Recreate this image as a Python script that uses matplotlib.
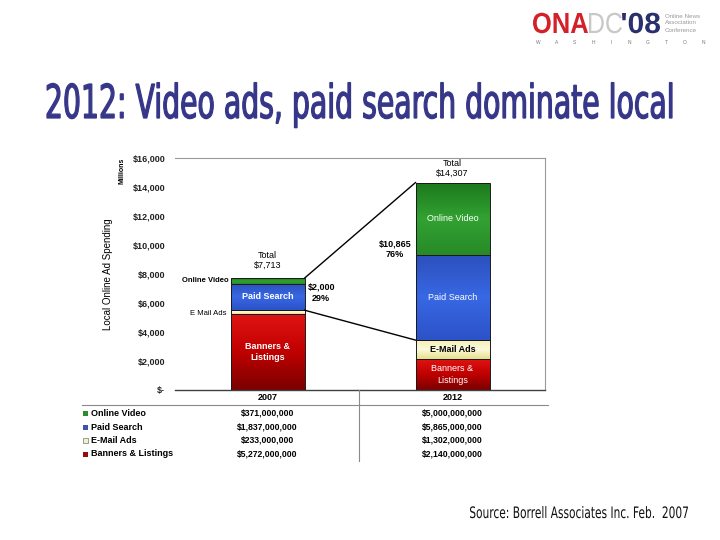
import numpy as np
import matplotlib
matplotlib.use('Agg')
import matplotlib.pyplot as plt
from matplotlib.colors import LinearSegmentedColormap
from matplotlib.textpath import TextPath
from matplotlib.font_manager import FontProperties
from matplotlib.patches import PathPatch, Rectangle
from matplotlib.transforms import Affine2D

plt.rcParams['font.family'] = ['Liberation Sans', 'DejaVu Sans']

# Dados (milhões de dólares)
anos = ['2007', '2012']
series = ['Online Video', 'Paid Search', 'E-Mail Ads', 'Banners & Listings']
banners = [5272, 2140]
email = [233, 1302]
search = [1837, 5865]
video = [371, 5000]
crescimento = ['$2,000\n29%', '$10,865\n76%']
yticks = [0, 2000, 4000, 6000, 8000, 10000, 12000, 14000, 16000]

# Cores (base -> topo) de cada segmento com gradiente vertical
cores = {
    'Banners & Listings': ['#7a0000', '#c00000', '#e21414'],
    'E-Mail Ads': ['#e6df88', '#fcf9dc', '#f4efb8'],
    'Paid Search': ['#2c52c8', '#3868e4', '#2c4fbc'],
    'Online Video': ['#278a27', '#32a232', '#1c781c'],
}
cor_legenda = {'Online Video': '#2e8b2e', 'Paid Search': '#4052b0',
               'E-Mail Ads': '#f2f0c8', 'Banners & Listings': '#9a0a0a'}

W, H = 720, 540
fig = plt.figure(figsize=(7.2, 5.4), dpi=100)

# eixo principal (em pixels: x 175-545, y 158-390)
ax_l, ax_r, ax_t, ax_b = 175, 545, 158, 390
ax = fig.add_axes([ax_l / W, 1 - ax_b / H, (ax_r - ax_l) / W, (ax_b - ax_t) / H])
ax.set_xlim(-0.5, 1.5)
ax.set_ylim(0, 16000)


def barra_gradiente(ax, x, base, altura, largura, stops):
    bar = ax.bar(x, altura, largura, bottom=base, color='none',
                 edgecolor='#1a1a1a', linewidth=0.7, zorder=3)[0]
    cmap = LinearSegmentedColormap.from_list('g', stops)
    grad = np.linspace(0, 1, 128).reshape(-1, 1)
    im = ax.imshow(grad, cmap=cmap, origin='lower', aspect='auto', zorder=2,
                   extent=(x - largura / 2, x + largura / 2, base, base + altura))
    im.set_clip_path(bar)


largura = 0.4
x = np.arange(len(anos))
for i in range(len(anos)):
    base = 0
    for nome, vals in [('Banners & Listings', banners), ('E-Mail Ads', email),
                       ('Paid Search', search), ('Online Video', video)]:
        barra_gradiente(ax, x[i], base, vals[i], largura, cores[nome])
        base += vals[i]

ax.set_xlim(-0.5, 1.5)
ax.set_ylim(0, 16000)

# linhas de ligação entre as barras
topo = [banners[i] + email[i] + search[i] + video[i] for i in range(2)]
meio = [banners[i] + email[i] for i in range(2)]
ax.plot([x[0] + largura / 2, x[1] - largura / 2], topo, color='black', lw=1, zorder=4)
ax.plot([x[0] + largura / 2, x[1] - largura / 2], meio, color='black', lw=1, zorder=4)

# eixos
ax.set_yticks(yticks)
ax.set_yticklabels(['$-' if v == 0 else '${:,}'.format(v) for v in yticks],
                   fontsize=6.5, fontweight='bold', color='#222222')
ax.tick_params(axis='y', length=0, pad=7)
ax.set_xticks([])
for s in ['top', 'right']:
    ax.spines[s].set_color('#9a9a9a')
    ax.spines[s].set_linewidth(0.8)
ax.spines['left'].set_visible(False)
ax.spines['bottom'].set_color('#404040')
ax.spines['bottom'].set_linewidth(1)
ax.set_ylabel('Local Online Ad Spending', fontsize=7, labelpad=14)
ax.text(-0.143, 1.0, 'Millions', transform=ax.transAxes, rotation=90,
        fontsize=5, fontweight='bold', ha='center', va='top')

# rótulos das barras
tot_fmt = ['Total\n${:,}'.format(t) for t in topo]
ax.text(x[0], topo[0] + 550, tot_fmt[0], ha='center', va='bottom', fontsize=6.5, linespacing=1.2)
ax.text(x[1], topo[1] + 300, tot_fmt[1], ha='center', va='bottom', fontsize=6.5, linespacing=1.2)

ax.text(x[0], banners[0] / 2, 'Banners &\nListings', ha='center', va='center',
        color='white', fontsize=6.5, fontweight='bold', zorder=5, linespacing=1.3)
ax.text(x[0], meio[0] + search[0] / 2, 'Paid Search', ha='center', va='center',
        color='white', fontsize=6.5, fontweight='bold', zorder=5)
ax.text(x[0] - largura / 2 - 0.01, topo[0] - video[0] / 2, 'Online Video', ha='right',
        va='center', fontsize=5.5, fontweight='bold', zorder=5)
ax.text(x[0] - largura / 2 - 0.02, meio[0] - 250, 'E Mail Ads', ha='right',
        va='center', fontsize=5.5, zorder=5)

ax.text(x[1], banners[1] / 2, 'Banners &\nListings', ha='center', va='center',
        color='white', fontsize=6.5, zorder=5, linespacing=1.3)
ax.text(x[1], banners[1] + email[1] / 2, 'E-Mail Ads', ha='center', va='center',
        color='black', fontsize=6.5, fontweight='bold', zorder=5)
ax.text(x[1], meio[1] + search[1] / 2, 'Paid Search', ha='center', va='center',
        color='white', fontsize=6.5, zorder=5)
ax.text(x[1], meio[1] + search[1] + video[1] / 2, 'Online Video', ha='center', va='center',
        color='white', fontsize=6.5, zorder=5)

ax.text(0.29, 6700, crescimento[0], ha='center', va='center', fontsize=6.5,
        fontweight='bold', linespacing=1.3)
ax.text(0.69, 9700, crescimento[1], ha='center', va='center', fontsize=6.5,
        fontweight='bold', linespacing=1.3)

# sobreposição em pixels para tabela, título e logo
bg = fig.add_axes([0, 0, 1, 1], zorder=10)
bg.set_xlim(0, W)
bg.set_ylim(H, 0)
bg.axis('off')
bg.patch.set_alpha(0)


def px_x(v):
    return ax_l + (v + 0.5) / 2.0 * (ax_r - ax_l)


# tabela de dados
bg.plot([82, 548], [405, 405], color='#8a8a8a', lw=0.8)
bg.plot([359, 359], [390, 461], color='#8a8a8a', lw=0.8)
for i, ano in enumerate(anos):
    bg.text(px_x(x[i]), 397.5, ano, ha='center', va='center', fontsize=6.5, fontweight='bold')

valores = {'Online Video': video, 'Paid Search': search, 'E-Mail Ads': email,
           'Banners & Listings': banners}
linhas_y = [413, 427, 440.5, 454]
for nome, yy in zip(series, linhas_y):
    bg.add_patch(Rectangle((82.5, yy - 2.5), 5, 5, facecolor=cor_legenda[nome],
                           edgecolor='#777777' if nome == 'E-Mail Ads' else 'none', lw=0.5))
    bg.text(91, yy, nome, ha='left', va='center', fontsize=6.5, fontweight='bold')
    for i in range(len(anos)):
        bg.text(px_x(x[i]), yy, '${:,}'.format(valores[nome][i] * 1000000),
                ha='center', va='center', fontsize=6.2, fontweight='bold')


def texto_caminho(s, x0, x1, baseline, cap, color, family, weight='normal', contorno=0):
    fp = FontProperties(family=family, weight=weight)
    h = TextPath((0, 0), 'H', size=1, prop=fp).get_extents().height
    tp = TextPath((0, 0), s, size=1, prop=fp)
    ext = tp.get_extents()
    tr = Affine2D().translate(-ext.x0, 0).scale((x1 - x0) / ext.width, -cap / h).translate(x0, baseline)
    bg.add_patch(PathPatch(tr.transform_path(tp), facecolor=color,
                           edgecolor=color if contorno else 'none', lw=contorno))


estreita = ['Liberation Sans Narrow', 'DejaVu Sans']
texto_caminho('2012: Video ads, paid search dominate local', 47, 672, 118, 34, '#37378a',
              estreita, 'normal', 0.9)
texto_caminho('Source: Borrell Associates Inc. Feb.  2007', 470, 688, 518, 11.5, '#111111', estreita)

# logo
texto_caminho('ONA', 533, 588, 33, 20, '#d42028', ['Liberation Sans'], 'bold')
texto_caminho('DC', 589, 622, 33, 20, '#c8c8c8', ['Liberation Sans'])
texto_caminho("'08", 622, 660, 33, 20, '#2a2f6e', ['Liberation Sans'], 'bold')
for k, t in enumerate(['Online News', 'Association', 'Conference']):
    bg.text(665, 16 + k * 7, t, ha='left', va='center', fontsize=4.5, color='#999999')
for xx, letra in zip(np.linspace(538, 703, 10), 'WASHINGTON'):
    bg.text(xx, 42, letra, ha='center', va='center', fontsize=3.5, color='#777777')

fig.savefig('out.png', dpi=100)
